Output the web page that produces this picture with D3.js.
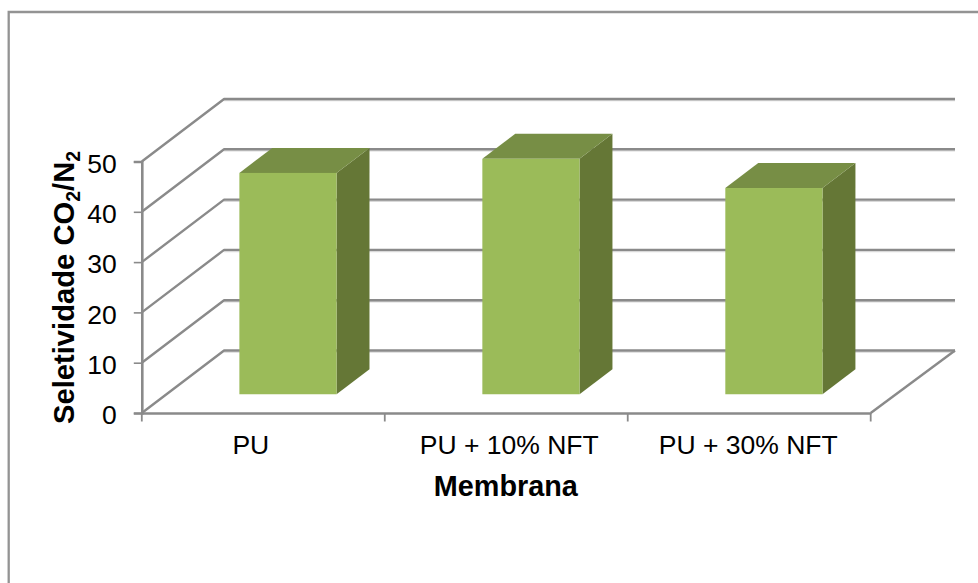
<!DOCTYPE html>
<html><head><meta charset="utf-8">
<script src="https://cdn.jsdelivr.net/npm/d3@7/dist/d3.min.js"></script>
<style>html,body{margin:0;padding:0;background:#fff;overflow:hidden}svg{display:block}text{font-family:"Liberation Sans",Arial,sans-serif;fill:#000}</style>
</head><body><svg id="c" width="978" height="583"></svg>
<script>
const categories = ["PU", "PU + 10% NFT", "PU + 30% NFT"];
const values = [44.0, 46.8, 41.0];
const yTicks = [0, 10, 20, 30, 40, 50];
const xTitle = "Membrana";
const labelNudge = [-12.5, 3, -1];

const svg = d3.select("#c");
const grey = "#8a8a8a";
const frontLeft = 141.8, frontRight = 870.7, floorY = 413, topY = 161.5;
const depthX = 82.3, depthY = -62.5;
const barDepth = 0.4, barOffset = 0.3;
const labelSize = 26.5, titleSize = 28.8;

const x = d3.scaleBand().domain(categories).range([frontLeft, frontRight]).paddingInner(0).paddingOuter(0);
const y = d3.scaleLinear().domain([0, 50]).range([floorY, topY]);

// frame
svg.append("path").attr("d", "M8.7,583V12H978").attr("fill", "none").attr("stroke", "#939393").attr("stroke-width", 2.3);

// gridlines: back wall and side wall
const grid = svg.append("g").attr("fill", "none");
const backRight = frontRight + depthX + 2;
yTicks.forEach(t => {
  const py = y(t);
  grid.append("path").attr("d", `M${frontLeft + depthX},${py + depthY + 1.6}H${backRight}`)
    .attr("stroke", "#d9d9d9").attr("stroke-width", 1.4);
  grid.append("path").attr("d", `M${frontLeft},${py}L${frontLeft + depthX},${py + depthY}H${backRight}`)
    .attr("stroke", grey).attr("stroke-width", 2.4).attr("stroke-linejoin", "bevel");
});
grid.append("path").attr("d", `M${frontRight},${floorY}L${backRight},${floorY + depthY}`)
  .attr("stroke", grey).attr("stroke-width", 2.4);

// axes
const yAxisG = svg.append("g").attr("transform", `translate(${frontLeft},0)`)
  .call(d3.axisLeft(y).tickValues(yTicks).tickSize(8).tickPadding(17));
const xAxisG = svg.append("g").attr("transform", `translate(0,${floorY})`)
  .call(d3.axisBottom(x).tickSize(0).tickPadding(22));
yAxisG.select(".domain").attr("stroke", grey).attr("stroke-width", 2.6);
yAxisG.selectAll(".tick line").attr("stroke", grey).attr("stroke-width", 1.6);
yAxisG.selectAll("text").attr("font-size", labelSize).style("font-family", '"Liberation Sans",Arial,sans-serif').attr("fill", "#000")
  .attr("dy", "0.40em");
xAxisG.select(".domain").attr("stroke", grey).attr("stroke-width", 2.6);
xAxisG.selectAll("text").attr("font-size", labelSize).style("font-family", '"Liberation Sans",Arial,sans-serif').attr("fill", "#000")
  .attr("dx", (d, i) => labelNudge[i]);
const xTickPos = categories.map(c => x(c)).concat([frontRight]);
xAxisG.selectAll(".bt").data(xTickPos).join("line").attr("class", "bt")
  .attr("x1", d => d).attr("x2", d => d).attr("y1", 0).attr("y2", 8.5)
  .attr("stroke", grey).attr("stroke-width", 1.8);

// bars
const bars = svg.append("g").selectAll("g").data(categories.map((c, i) => ({c, v: values[i]}))).join("g");
const w = x.bandwidth() * barDepth;
const dx = depthX * barDepth, dy = depthY * barDepth;
const baseY = floorY + depthY * barOffset;
const hScale = v => y(0) - y(v);
const left = d => x(d.c) + x.bandwidth() / 2 - w / 2 + depthX * barOffset;
bars.append("path").attr("fill", "#657736").attr("d", d => {
  const l = left(d) + w, t = baseY - hScale(d.v);
  return `M${l},${baseY}V${t}l${dx},${dy}V${baseY + dy}Z`;
});
bars.append("path").attr("fill", "#778e45").attr("d", d => {
  const l = left(d), t = baseY - hScale(d.v);
  return `M${l},${t}l${dx},${dy}h${w}l${-dx},${-dy}Z`;
});
bars.append("rect").attr("fill", "#9bbb59")
  .attr("x", left).attr("width", w)
  .attr("y", d => baseY - hScale(d.v)).attr("height", d => hScale(d.v));

// titles
svg.append("text").attr("x", 505.8).attr("y", 496).attr("text-anchor", "middle")
  .attr("font-size", titleSize).attr("font-weight", "bold").text(xTitle);
const yt = svg.append("text").attr("transform", "translate(74,424) rotate(-90)")
  .attr("font-size", 29.2).attr("font-weight", "bold");
yt.append("tspan").text("Seletividade CO");
yt.append("tspan").text("2").attr("font-size", 19.5).attr("dy", 6);
yt.append("tspan").text("/N").attr("dy", -6);
yt.append("tspan").text("2").attr("font-size", 19.5).attr("dy", 6);
</script></body></html>
